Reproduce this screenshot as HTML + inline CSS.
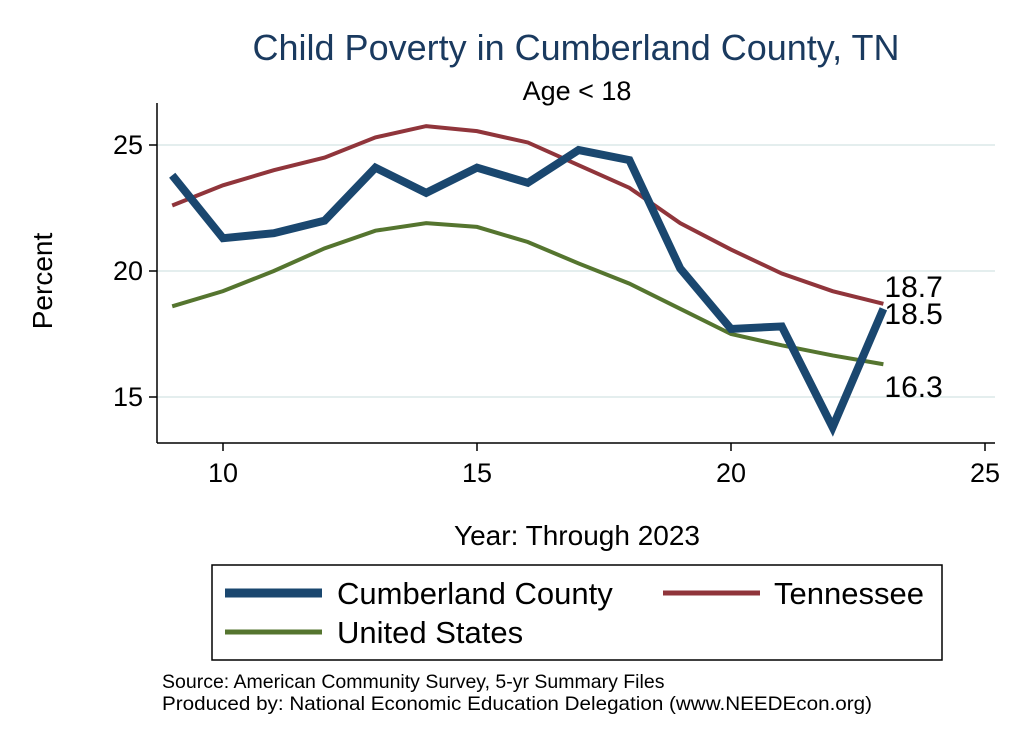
<!DOCTYPE html>
<html><head><meta charset="utf-8"><style>
body{margin:0;background:#fff;font-family:"Liberation Sans",Arial,sans-serif}
svg text{font-family:"Liberation Sans",Arial,sans-serif}
</style></head><body>
<svg id="chart" width="1024" height="745" viewBox="0 0 1024 745">
<rect x="0" y="0" width="1024" height="745" fill="#fff"/>
<text x="576" y="60" font-size="36" fill="#1a3a5f" text-anchor="middle">Child Poverty in Cumberland County, TN</text>
<text x="577" y="100" font-size="27" fill="#000" text-anchor="middle">Age &lt; 18</text>
<g id="grid"></g>
<g id="axes"></g>
<g id="series"></g>
<g id="labels"></g>
<text x="52" y="281" font-size="28" text-anchor="middle" transform="rotate(-90 52 281)">Percent</text>
<text x="577" y="545" font-size="28" text-anchor="middle">Year: Through 2023</text>
<g>
<rect x="212" y="565" width="730" height="95" fill="#fff" stroke="#000" stroke-width="1.5"/>
<line x1="225" y1="593" x2="322" y2="593" stroke="#1a476f" stroke-width="9"/>
<text x="337" y="604" font-size="31">Cumberland County</text>
<line x1="663" y1="593" x2="760" y2="593" stroke="#90353b" stroke-width="5"/>
<text x="774" y="604" font-size="31">Tennessee</text>
<line x1="225" y1="632" x2="322" y2="632" stroke="#55752f" stroke-width="5"/>
<text x="337" y="643" font-size="31">United States</text>
</g>
<text x="162" y="688" font-size="19.5">Source: American Community Survey, 5-yr Summary Files</text>
<text x="162" y="710" font-size="19.5" textLength="710" lengthAdjust="spacingAndGlyphs">Produced by: National Economic Education Delegation (www.NEEDEcon.org)</text>
</svg>
<script>
const years=[9,10,11,12,13,14,15,16,17,18,19,20,21,22,23];
const cumberland=[23.8,21.3,21.5,22.0,24.1,23.1,24.1,23.5,24.8,24.4,20.1,17.7,17.8,13.8,18.5];
const tennessee=[22.6,23.4,24.0,24.5,25.3,25.75,25.55,25.1,24.2,23.3,21.9,20.85,19.9,19.2,18.7];
const unitedStates=[18.6,19.2,20.0,20.9,21.6,21.9,21.75,21.15,20.3,19.5,18.5,17.5,17.05,16.65,16.3];
const xTicks=[10,15,20,25];
const yTicks=[15,20,25];
const NS="http://www.w3.org/2000/svg";
const X=v=>223+(v-10)*50.8;
const Y=v=>271-(v-20)*25.2;
function mk(t,a,p){const e=document.createElementNS(NS,t);for(const k in a)e.setAttribute(k,a[k]);p.appendChild(e);return e;}
const grid=document.getElementById('grid'),axes=document.getElementById('axes'),ser=document.getElementById('series'),lab=document.getElementById('labels');
yTicks.forEach(t=>{
 const g=mk('line',{x1:157,x2:995,y1:Y(t),y2:Y(t),stroke:'#e4eeee','stroke-width':2},grid);
 
 
 const tk=mk('line',{x1:149,x2:157,y1:Y(t),y2:Y(t),stroke:'#000','stroke-width':1.5},axes);
 
 
 const tx=mk('text',{x:143,y:Y(t)+9,'font-size':27,'text-anchor':'end'},axes);tx.textContent=t;
 
 
});
xTicks.forEach(t=>{
 const tk=mk('line',{x1:X(t),x2:X(t),y1:443,y2:451,stroke:'#000','stroke-width':1.5},axes);
 
 
 const tx=mk('text',{x:X(t),y:482,'font-size':27,'text-anchor':'middle'},axes);tx.textContent=t;
 
 
});
const ax1=mk('line',{x1:157,x2:157,y1:103,y2:443,stroke:'#000','stroke-width':1.5},axes);


const ax2=mk('line',{x1:157,x2:995,y1:443,y2:443,stroke:'#000','stroke-width':1.5},axes);


function line(vals,color,w,name){
 const p=mk('polyline',{points:vals.map((v,i)=>X(years[i])+','+Y(v)).join(' '),fill:'none',stroke:color,'stroke-width':w,'stroke-linejoin':'miter'},ser);
 
 
}
line(unitedStates,'#55752f',4,'line-united-states');
line(tennessee,'#90353b',4,'line-tennessee');
line(cumberland,'#1a476f',8,'line-cumberland');
function endLabel(vals,dy,name){
 const v=vals[vals.length-1];
 const t=mk('text',{x:X(years[years.length-1])+1,y:Y(v)+dy,'font-size':30},lab);
 t.textContent=v.toFixed(1);
 
 
}
endLabel(tennessee,-7,'label-tennessee');
endLabel(cumberland,15,'label-cumberland');
endLabel(unitedStates,33,'label-united-states');
</script>
</body></html>
